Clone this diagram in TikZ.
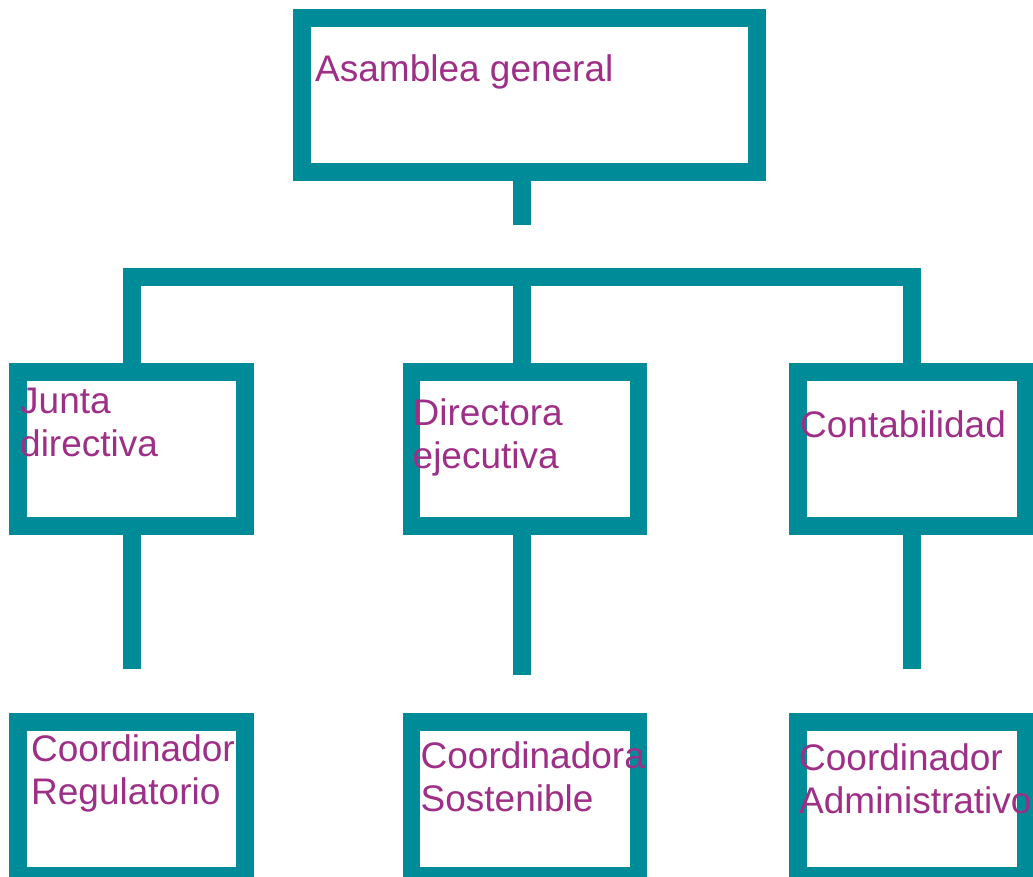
\documentclass[tikz,border=0pt]{standalone}
\usepackage{fontspec}
\setmainfont{Liberation Sans}
\usetikzlibrary{positioning}
\definecolor{orgteal}{RGB}{0,139,153}
\definecolor{orgtext}{RGB}{158,47,135}

\begin{document}
\begin{tikzpicture}[x=1pt, y=-1pt,
        cargo/.style={rectangle, draw=orgteal, line width=17.5pt, outer sep=0pt,
            inner sep=0pt, minimum width=227pt, minimum height=154pt},
        nombre/.style={text=orgtext, inner sep=0pt, anchor=base west, align=left,
            font=\fontsize{37}{43.5}\selectfont},
        enlace/.style={draw=orgteal, line width=17.5pt}]
    \useasboundingbox (0,0) rectangle (1033,877);

    % boxes
    \node[cargo, minimum width=455pt] (asamblea) at (529.5,95) {};
    \node[cargo] (junta) at (131.5,449) {};
    \node[cargo] (directora) at (525,449) {};
    \node[cargo, minimum width=228pt] (conta) at (912,449) {};
    \node[cargo, below=196pt of junta] (creg) {};
    \node[cargo, below=196pt of directora] (csost) {};
    \node[cargo, minimum width=228pt, below=196pt of conta] (cadm) {};

    % texts (base = last line)
    \node[nombre] (asamblea-t) at ([shift={(13,64)}]asamblea.north west) {Asamblea general};
    \node[nombre] (junta-t) at ([shift={(2,84.5)}]junta.north west) {Junta\\directiva};
    \node[nombre] (directora-t) at ([shift={(1,96.5)}]directora.north west) {Directora\\ejecutiva};
    \node[nombre] (conta-t) at ([shift={(2,65)}]conta.north west) {Contabilidad};
    \node[nombre] (creg-t) at ([shift={(13,82.5)}]creg.north west) {Coordinador\\Regulatorio};
    \node[nombre] (csost-t) at ([shift={(9,89.5)}]csost.north west) {Coordinadora\\Sostenible};
    \node[nombre] (cadm-t) at ([shift={(1,91.5)}]cadm.north west) {Coordinador\\Administrativo};

    % connectors
    \coordinate (tope) at (522,225);
    \coordinate (barra) at (522,277);
    \coordinate (izq) at (132,277);
    \coordinate (der) at (912,277);
    \coordinate (fin-j) at (132,669);
    \coordinate (fin-d) at (522,675);
    \coordinate (fin-c) at (912,669);

    \draw[enlace] (asamblea.south -| tope) -- (tope);
    \draw[enlace] (junta.north -| izq) -- (izq) -- (der) -- (conta.north -| der);
    \draw[enlace] (barra) -- (directora.north -| barra);
    \draw[enlace] (junta.south -| fin-j) -- (fin-j);
    \draw[enlace] (directora.south -| fin-d) -- (fin-d);
    \draw[enlace] (conta.south -| fin-c) -- (fin-c);
\end{tikzpicture}
\end{document}
